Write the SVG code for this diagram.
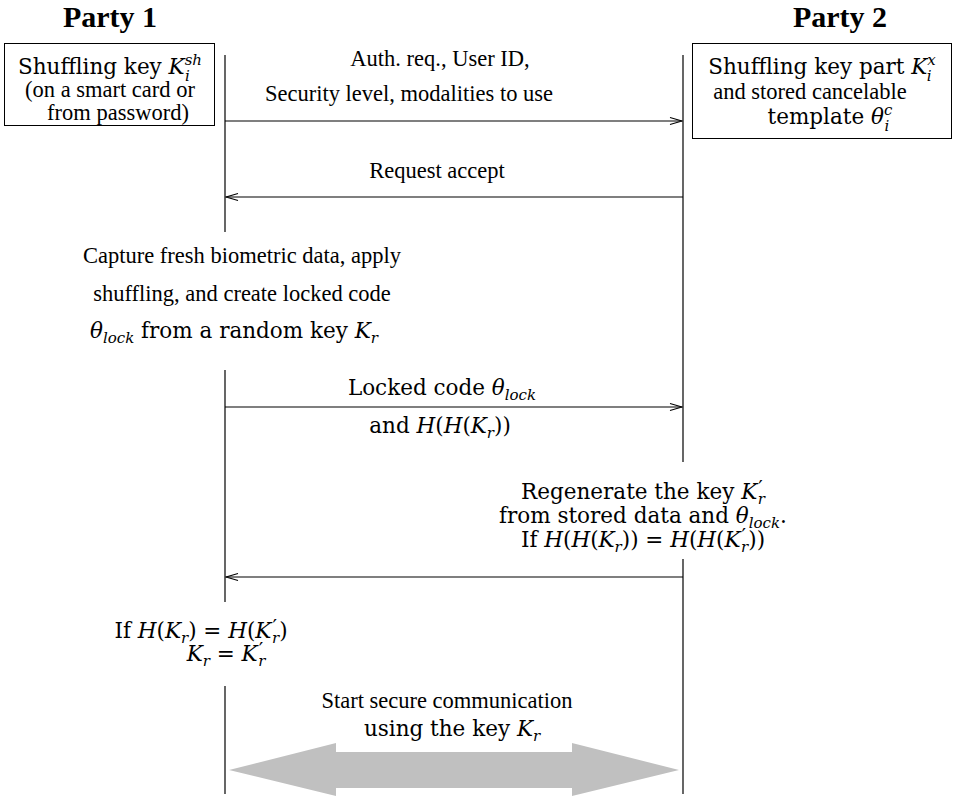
<svg xmlns="http://www.w3.org/2000/svg" width="954" height="799" viewBox="0 0 954 799">
<style>
.t{font-family:"Liberation Serif","Times New Roman",serif;font-size:22.5px;fill:#000;text-anchor:middle}
.m{font-family:"DejaVu Serif","Liberation Serif",serif;font-size:21.5px;fill:#000;text-anchor:middle}
.i{font-style:italic}
.s{font-size:15px}
.p{font-size:20px}
.h{font-family:"Liberation Serif","Times New Roman",serif;font-size:30px;font-weight:bold;fill:#000;text-anchor:middle}
.box{fill:#fff;stroke:#000;stroke-width:1}
.life{stroke:#000;stroke-width:1.2;fill:none}
.msg{stroke:#000;stroke-width:1.2;fill:none}
</style>
<defs>
<marker id="ah" markerWidth="14" markerHeight="10" refX="13" refY="5" orient="auto-start-reverse" markerUnits="userSpaceOnUse">
<path d="M1,1.5 L13,5 L1,8.5" fill="none" stroke="#000" stroke-width="1.1"/>
</marker>
</defs>
<rect width="954" height="799" fill="#fff"/>

<g id="party1">
<text class="h" x="110" y="27">Party 1</text>
<rect class="box" x="4.5" y="43.5" width="210" height="82"/>
<text class="m" x="110" y="74">Shuffling key <tspan class="i">K</tspan><tspan class="i s" dy="-9">sh</tspan><tspan class="i s" dx="-17" dy="16">i</tspan></text>
<text class="t" x="110" y="97">(on a smart card or</text>
<text class="t" x="118" y="120">from password)</text>
</g>

<g id="party2">
<text class="h" x="840" y="27">Party 2</text>
<rect class="box" x="692.5" y="43.5" width="259" height="95"/>
<text class="m" x="822" y="74">Shuffling key part <tspan class="i">K</tspan><tspan class="i s" dy="-9">x</tspan><tspan class="i s" dx="-9" dy="16">i</tspan></text>
<text class="t" x="810" y="99">and stored cancelable</text>
<text class="m" x="830" y="124">template <tspan class="i">θ</tspan><tspan class="i s" dy="-9">c</tspan><tspan class="i s" dx="-8" dy="16">i</tspan></text>
</g>

<g id="lifelines">
<line class="life" x1="225" y1="55" x2="225" y2="232"/>
<line class="life" x1="225" y1="370" x2="225" y2="602"/>
<line class="life" x1="225" y1="686" x2="225" y2="794"/>
<line class="life" x1="683" y1="55" x2="683" y2="462"/>
<line class="life" x1="683" y1="559" x2="683" y2="794"/>
</g>

<g id="connectors">
<line class="msg" x1="225" y1="121" x2="682" y2="121" marker-end="url(#ah)"/>
<line class="msg" x1="683" y1="197" x2="226" y2="197" marker-end="url(#ah)"/>
<line class="msg" x1="225" y1="407" x2="682" y2="407" marker-end="url(#ah)"/>
<line class="msg" x1="683" y1="577" x2="226" y2="577" marker-end="url(#ah)"/>
<polygon id="secure-arrow" points="229,770 336,743 336,752 572,752 572,743 679,770 572,796 572,788 336,788 336,796" fill="#c0c0c0"/>
</g>

<g id="msg1-label">
<text class="t" x="440" y="66">Auth. req., User ID,</text>
<text class="t" x="409" y="101">Security level, modalities to use</text>
</g>
<g id="msg2-label">
<text class="t" x="437" y="178">Request accept</text>
</g>
<g id="party1-capture">
<text class="t" x="242" y="263">Capture fresh biometric data, apply</text>
<text class="t" x="242" y="301">shuffling, and create locked code</text>
<text class="m" x="234" y="338"><tspan class="i">θ</tspan><tspan class="i s" dy="5">lock</tspan><tspan dy="-5"> from a random key </tspan><tspan class="i">K</tspan><tspan class="i s" dy="5">r</tspan></text>
</g>
<g id="msg3-label">
<text class="m" x="442" y="395">Locked code <tspan class="i">θ</tspan><tspan class="i s" dy="5">lock</tspan></text>
<text class="m" x="440" y="433">and <tspan class="i">H</tspan>(<tspan class="i">H</tspan>(<tspan class="i">K</tspan><tspan class="i s" dy="5">r</tspan><tspan dy="-5">))</tspan></text>
</g>
<g id="party2-regenerate">
<text class="m" x="643" y="499">Regenerate the key <tspan class="i">K</tspan><tspan class="p" dx="1" dy="-4">′</tspan><tspan class="i s" dx="-5" dy="9">r</tspan></text>
<text class="m" x="643" y="523">from stored data and <tspan class="i">θ</tspan><tspan class="i s" dy="5">lock</tspan><tspan dy="-5">.</tspan></text>
<text class="m" x="643" y="547">If <tspan class="i">H</tspan>(<tspan class="i">H</tspan>(<tspan class="i">K</tspan><tspan class="i s" dy="5">r</tspan><tspan dy="-5">)) = </tspan><tspan class="i">H</tspan>(<tspan class="i">H</tspan>(<tspan class="i">K</tspan><tspan class="p" dx="1" dy="-4">′</tspan><tspan class="i s" dx="-5" dy="9">r</tspan><tspan dy="-5">))</tspan></text>
</g>
<g id="party1-check">
<text class="m" x="201" y="638">If <tspan class="i">H</tspan>(<tspan class="i">K</tspan><tspan class="i s" dy="5">r</tspan><tspan dy="-5">) = </tspan><tspan class="i">H</tspan>(<tspan class="i">K</tspan><tspan class="p" dx="1" dy="-4">′</tspan><tspan class="i s" dx="-5" dy="9">r</tspan><tspan dy="-5">)</tspan></text>
<text class="m" x="226" y="661"><tspan class="i">K</tspan><tspan class="i s" dy="5">r</tspan><tspan dy="-5"> = </tspan><tspan class="i">K</tspan><tspan class="p" dx="1" dy="-4">′</tspan><tspan class="i s" dx="-5" dy="9">r</tspan></text>
</g>
<g id="secure-label">
<text class="t" x="447" y="708">Start secure communication</text>
<text class="m" x="452" y="736">using the key <tspan class="i">K</tspan><tspan class="i s" dy="5">r</tspan></text>
</g>
</svg>
